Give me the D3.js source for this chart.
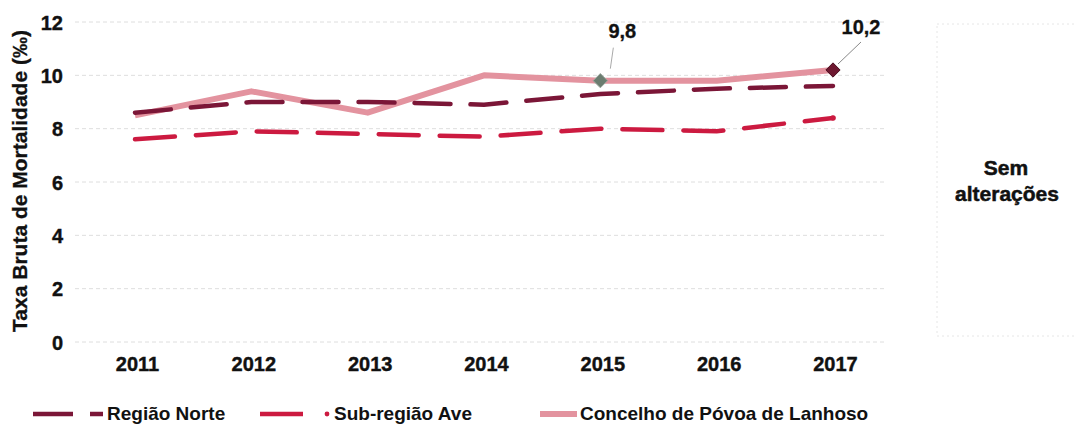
<!DOCTYPE html>
<html><head><meta charset="utf-8">
<script src="https://cdn.jsdelivr.net/npm/d3@7"></script>
<style>body{margin:0;background:#fff;}svg{display:block;font-family:"Liberation Sans",Arial,sans-serif;}</style>
</head><body>
<svg id="c" width="1074" height="427"></svg>
<script>
const years = ["2011","2012","2013","2014","2015","2016","2017"];
const norte = [8.6, 9.0, 9.0, 8.9, 9.3, 9.5, 9.6];
const ave = [7.6, 7.9, 7.8, 7.7, 8.0, 7.9, 8.4];
const concelho = [8.5, 9.4, 8.6, 10.0, 9.8, 9.8, 10.2];
const yTicks = [0, 2, 4, 6, 8, 10, 12];
const seriesNames = ["Região Norte", "Sub-região Ave", "Concelho de Póvoa de Lanhoso"];
const annotations = [{year:"2015", value:9.8, label:"9,8"}, {year:"2017", value:10.2, label:"10,2"}];

const svg = d3.select("#c");
const x = d3.scalePoint().domain(years).range([135, 833]);
const y = d3.scaleLinear().domain([0, 12]).range([342, 22]);

// gridlines
svg.append("g").selectAll("line").data(yTicks).join("line")
  .attr("x1", 75).attr("x2", 885)
  .attr("y1", d => y(d)).attr("y2", d => y(d))
  .attr("stroke", "#dedede").attr("stroke-width", 1).attr("stroke-dasharray", "4,3");

// y axis
const yAxis = d3.axisLeft(y).tickValues(yTicks).tickSize(0).tickPadding(0);
const gy = svg.append("g").attr("transform", "translate(63,0)").call(yAxis);
gy.select(".domain").remove();
gy.selectAll("text").attr("font-size", 20).attr("font-weight", "bold").attr("fill", "#111")
  .attr("stroke", "#111").attr("stroke-width", 0.4).attr("dy", "0.35em");

// x axis
const xAxis = d3.axisBottom(x).tickSize(0).tickPadding(0);
const gx = svg.append("g").attr("transform", "translate(2,357)").call(xAxis);
gx.select(".domain").remove();
gx.selectAll("text").attr("font-size", 20).attr("font-weight", "bold").attr("fill", "#111")
  .attr("stroke", "#111").attr("stroke-width", 0.4).attr("dy", "0.71em");

// y title
svg.append("text").attr("transform", "translate(27,181) rotate(-90)")
  .attr("text-anchor", "middle").attr("font-size", 21).attr("font-weight", "bold").attr("fill", "#111")
  .attr("stroke", "#111").attr("stroke-width", 0.3)
  .text("Taxa Bruta de Mortalidade (‰)");

const line = d3.line().x((d, i) => x(years[i])).y(d => y(d));

svg.append("path").datum(concelho).attr("d", line).attr("fill", "none")
  .attr("stroke", "#e3939f").attr("stroke-width", 6).attr("stroke-linejoin", "round");
svg.append("path").datum(norte).attr("d", line).attr("fill", "none")
  .attr("stroke", "#7b1637").attr("stroke-width", 4.5).attr("stroke-dasharray", "36,20").attr("stroke-linecap", "round");
svg.append("path").datum(ave).attr("d", line).attr("fill", "none")
  .attr("stroke", "#cc1a40").attr("stroke-width", 4.5).attr("stroke-dasharray", "40,21").attr("stroke-linecap", "round");
svg.append("circle").attr("cx", x("2017")).attr("cy", y(ave[6])).attr("r", 2.8).attr("fill", "#cc1a40");

// markers
const sym = d3.symbol().type(d3.symbolDiamond2).size(130);
svg.append("path").attr("d", sym).attr("transform", `translate(${x("2015")},${y(9.8)})`)
  .attr("fill", "#6b7d70").attr("stroke", "#9aa59c").attr("stroke-width", 1);
svg.append("path").attr("d", sym).attr("transform", `translate(${x("2017")},${y(10.2)})`)
  .attr("fill", "#6e1830").attr("stroke", "#4a0f20").attr("stroke-width", 1);

// leader lines & labels
svg.append("line").attr("x1", x("2015") + 10).attr("y1", y(9.8) - 12).attr("x2", x("2015") + 13).attr("y2", y(9.8) - 33)
  .attr("stroke", "#aaa").attr("stroke-width", 1);
svg.append("line").attr("x1", x("2017") + 5).attr("y1", y(10.2) - 6).attr("x2", x("2017") + 28).attr("y2", y(10.2) - 28)
  .attr("stroke", "#888").attr("stroke-width", 1);
svg.append("text").attr("x", x("2015") + 22).attr("y", 38).attr("text-anchor", "middle")
  .attr("font-size", 20).attr("font-weight", "bold").attr("fill", "#111").attr("stroke", "#111").attr("stroke-width", 0.3)
  .text(annotations[0].label);
svg.append("text").attr("x", x("2017") + 28).attr("y", 34).attr("text-anchor", "middle")
  .attr("font-size", 20).attr("font-weight", "bold").attr("fill", "#111").attr("stroke", "#111").attr("stroke-width", 0.3)
  .text(annotations[1].label);

// right panel
svg.append("rect").attr("x", 937).attr("y", 24).attr("width", 140).attr("height", 312)
  .attr("fill", "none").attr("stroke", "#e6e6e6").attr("stroke-dasharray", "2,3");
svg.append("text").attr("x", 1006).attr("y", 175).attr("text-anchor", "middle")
  .attr("font-size", 21).attr("font-weight", "bold").attr("fill", "#111").attr("stroke", "#111").attr("stroke-width", 0.5).text("Sem");
svg.append("text").attr("x", 1007).attr("y", 201).attr("text-anchor", "middle")
  .attr("font-size", 21).attr("font-weight", "bold").attr("fill", "#111").attr("stroke", "#111").attr("stroke-width", 0.5).text("alterações");

// legend
const lg = svg.append("g");
const ly = 414;
const lt = 420;
lg.append("line").attr("x1", 33).attr("x2", 73).attr("y1", ly).attr("y2", ly).attr("stroke", "#7b1637").attr("stroke-width", 4.5);
lg.append("line").attr("x1", 90).attr("x2", 103).attr("y1", ly).attr("y2", ly).attr("stroke", "#7b1637").attr("stroke-width", 4.5);
lg.append("text").attr("x", 107).attr("y", lt).attr("font-size", 19).attr("font-weight", "bold").attr("fill", "#111").text(seriesNames[0]);
lg.append("line").attr("x1", 260).attr("x2", 303).attr("y1", ly).attr("y2", ly).attr("stroke", "#cc1a40").attr("stroke-width", 4.5);
lg.append("circle").attr("cx", 327).attr("cy", ly).attr("r", 2.4).attr("fill", "#cc1a40");
lg.append("text").attr("x", 334).attr("y", lt).attr("font-size", 19).attr("font-weight", "bold").attr("fill", "#111").text(seriesNames[1]);
lg.append("line").attr("x1", 540).attr("x2", 577).attr("y1", ly).attr("y2", ly).attr("stroke", "#e3939f").attr("stroke-width", 6);
lg.append("text").attr("x", 580).attr("y", lt).attr("font-size", 19).attr("font-weight", "bold").attr("fill", "#111").text(seriesNames[2]);
</script>
</body></html>
